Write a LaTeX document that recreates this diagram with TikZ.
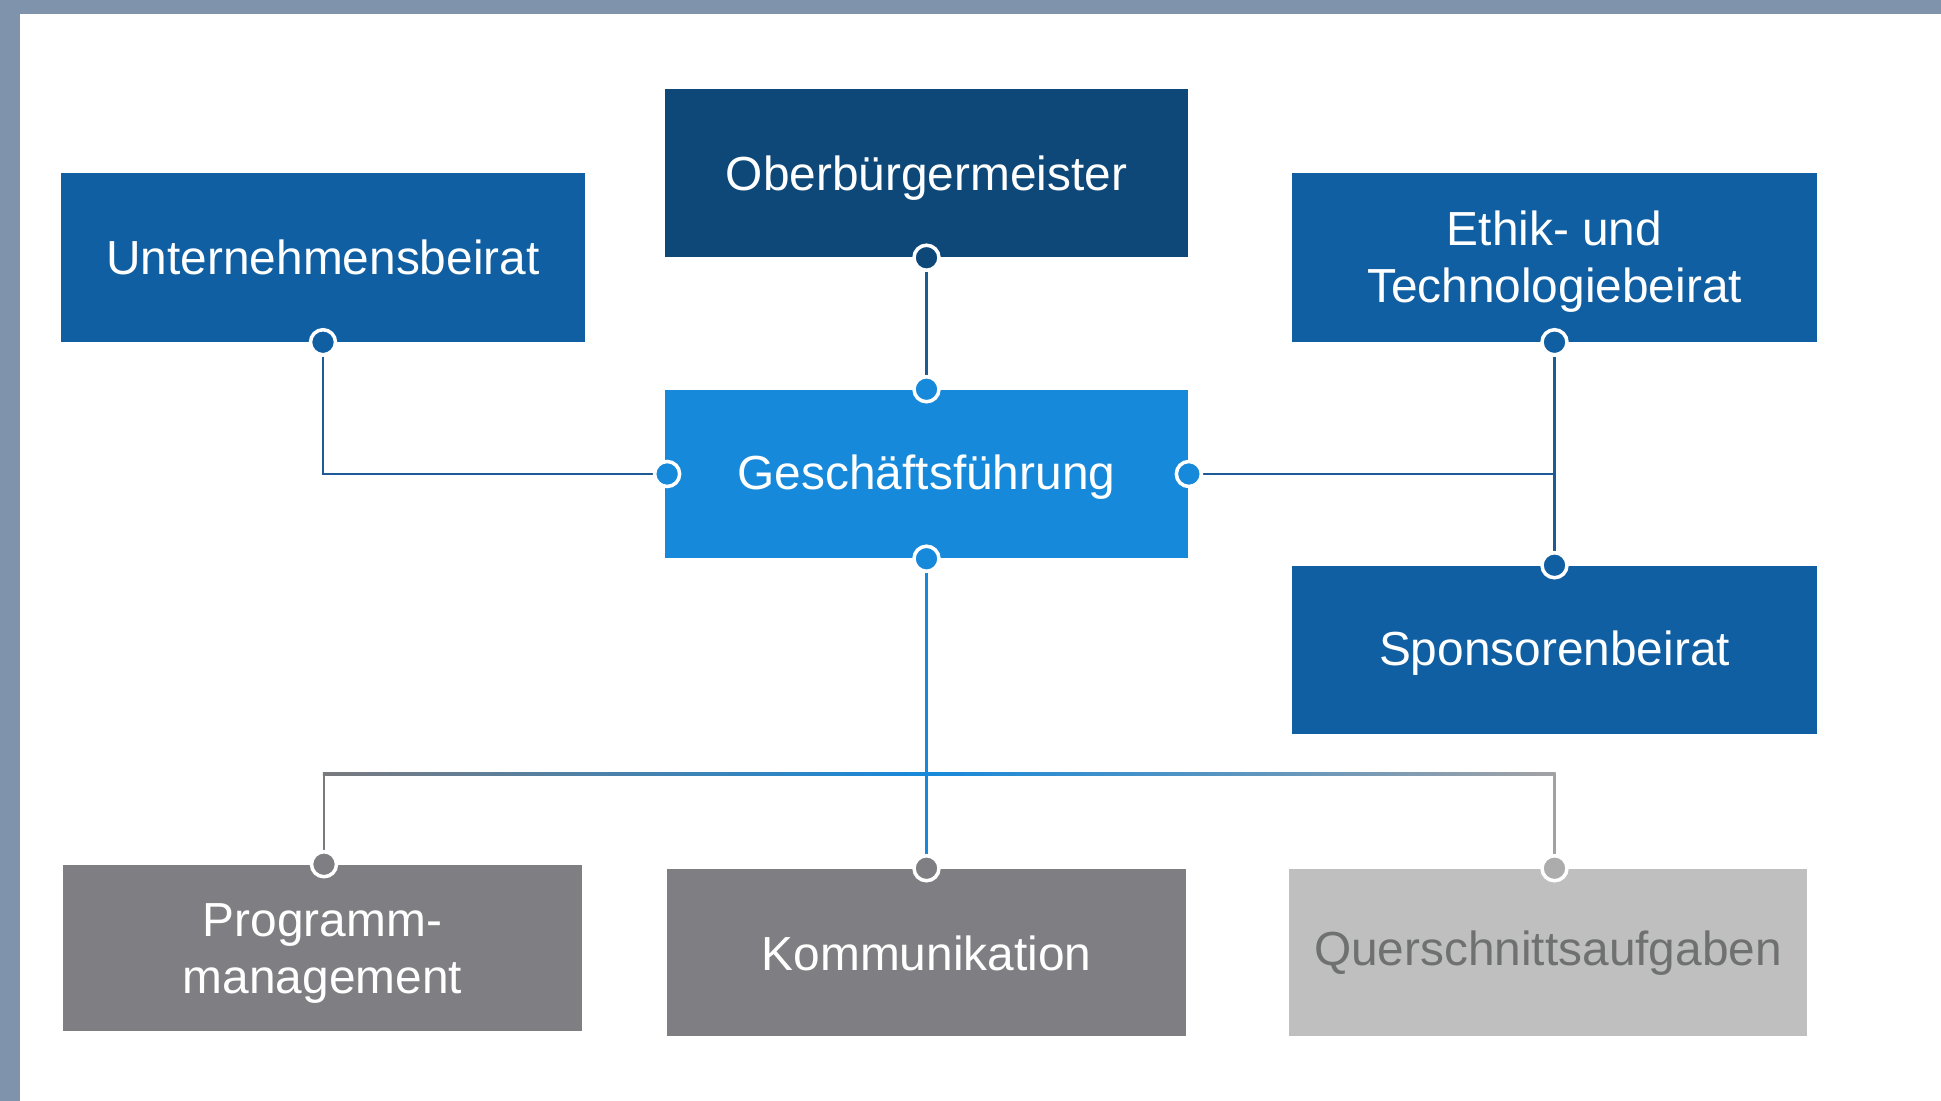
\documentclass[tikz,border=0pt]{standalone}
\usepackage{fontspec}
\setmainfont{Liberation Sans}
\usetikzlibrary{calc}

\definecolor{frameblue}{HTML}{7F93AD}
\definecolor{navy}{HTML}{0E4879}
\definecolor{midblue}{HTML}{0F5FA2}
\definecolor{lightblue}{HTML}{1789DA}
\definecolor{darkgray}{HTML}{7F7F83}
\definecolor{palegray}{HTML}{BFBFBF}
\definecolor{paletext}{HTML}{6F7070}
\definecolor{linegray}{HTML}{7A7A7E}
\definecolor{lineblue}{HTML}{1D5A96}

\pgfdeclarelayer{paper}
\pgfdeclarelayer{lines}
\pgfsetlayers{paper,lines,main}

\begin{document}
\begin{tikzpicture}[x=0.01cm,y=-0.01cm,
  box/.style={rectangle, inner sep=0pt,
    minimum width=5.23cm, minimum height=1.68cm},
  lbl/.style={text=white, align=center, inner sep=0pt,
    font=\fontsize{13.6}{16.2}\selectfont},
  port/.style={circle, draw=white, line width=1pt, minimum size=0.25cm, inner sep=0pt},
  conn/.style={line width=0.7pt}
]
% page and frame
\begin{pgfonlayer}{paper}
  \fill[white] (0,0) rectangle (1941,1101);
  \fill[frameblue] (0,0) rectangle (1941,14);
  \fill[frameblue] (0,0) rectangle (20,1101);
\end{pgfonlayer}
\useasboundingbox (0,0) rectangle (1941,1101);

% boxes
\node[box, fill=navy,
  label={[lbl, yshift=-1.6pt]center:Oberbürgermeister}] (ob) at (926.5,173) {};
\node[box, fill=midblue,
  label={[lbl]center:Unternehmensbeirat}] (ub) at (323,257.5) {};
\node[box, fill=midblue, minimum width=5.25cm,
  label={[lbl, yshift=-1.2pt]center:{Ethik- und\\Technologiebeirat}}] (et) at (1554.5,257.5) {};
\node[box, fill=lightblue,
  label={[lbl, yshift=-0.9pt]center:Geschäftsführung}] (gf) at (926.5,474) {};
\node[box, fill=midblue, minimum width=5.25cm,
  label={[lbl, yshift=-0.9pt]center:Sponsorenbeirat}] (sp) at (1554.5,650) {};
\node[box, fill=darkgray, minimum width=5.19cm, minimum height=1.66cm,
  label={[lbl, yshift=-1.5pt]center:{Programm-\\management}}] (pm) at (322.5,948) {};
\node[box, fill=darkgray, minimum width=5.19cm, minimum height=1.67cm,
  label={[lbl, yshift=-0.3pt]center:Kommunikation}] (ko) at (926.5,952.5) {};
\node[box, fill=palegray, minimum width=5.18cm, minimum height=1.67cm,
  label={[lbl, text=paletext, yshift=-0.3pt]center:Querschnittsaufgaben}] (qa) at (1548,952.5) {};

% connection points
\node[port, fill=navy]      (pob)  at (ob.south) {};
\node[port, fill=midblue]   (pub)  at (ub.south) {};
\node[port, fill=midblue]   (pet)  at (et.south) {};
\node[port, fill=midblue]   (psp)  at (sp.north) {};
\node[port, fill=lightblue] (pgft) at (gf.north) {};
\node[port, fill=lightblue] (pgfl) at ($(gf.west)+(3,0)$) {};
\node[port, fill=lightblue] (pgfr) at (gf.east) {};
\node[port, fill=lightblue] (pgfb) at (gf.south) {};
\node[port, fill=darkgray]  (ppm)  at ($(pm.north)+(1.5,0)$) {};
\node[port, fill=darkgray]  (pko)  at (ko.north) {};
\node[port, fill=palegray!90!black] (pqa) at (qa.north -| et.south) {};

% bus line above the lower row
\coordinate (busl) at (ppm |- 0,774);
\coordinate (busm) at (pko |- 0,774);
\coordinate (busr) at (pqa |- 0,774);

\begin{pgfonlayer}{lines}
  \draw[conn, lineblue] (pub) |- (pgfl);
  \draw[conn, lineblue] (pob) -- (pgft);
  \draw[conn, lineblue] (pet) -- (psp);
  \draw[conn, lineblue] (pgfr) -- (pgfr -| pet);
  \draw[conn, linegray] (busl) -- (ppm);
  \draw[conn, linegray!70] (busr) -- (pqa);
  \shade[left color=linegray, right color=lightblue]
    ($(busl)+(-1.2,-1.2)$) rectangle ($(busm)+(0,1.2)$);
  \shade[left color=lightblue, right color=linegray!70]
    ($(busm)+(0,-1.2)$) rectangle ($(busr)+(1.2,1.2)$);
  \draw[conn, lightblue] (pgfb) -- (pko);
\end{pgfonlayer}
\end{tikzpicture}
\end{document}
